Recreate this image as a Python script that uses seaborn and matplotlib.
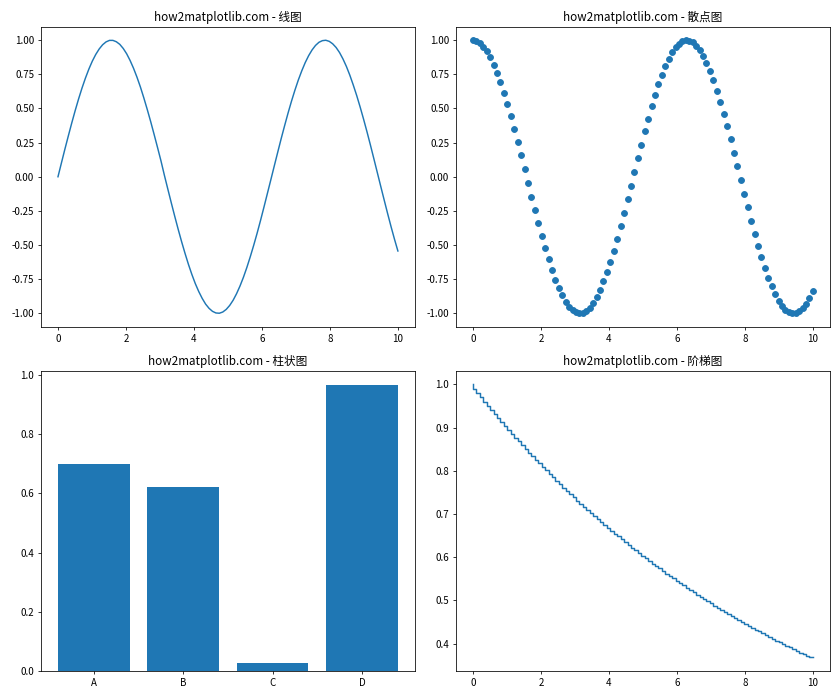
import matplotlib
matplotlib.use('Agg')
import matplotlib.pyplot as plt
import seaborn as sns

plt.rcParams['font.family'] = ['Noto Sans CJK SC', 'DejaVu Sans']
plt.rcParams['axes.unicode_minus'] = False

# 采样点 (0 到 10, 共 100 个)
x_vals = [0.000, 0.101, 0.202, 0.303, 0.404, 0.505, 0.606, 0.707, 0.808, 0.909,
          1.010, 1.111, 1.212, 1.313, 1.414, 1.515, 1.616, 1.717, 1.818, 1.919,
          2.020, 2.121, 2.222, 2.323, 2.424, 2.525, 2.626, 2.727, 2.828, 2.929,
          3.030, 3.131, 3.232, 3.333, 3.434, 3.535, 3.636, 3.737, 3.838, 3.939,
          4.040, 4.141, 4.242, 4.343, 4.444, 4.545, 4.646, 4.747, 4.848, 4.949,
          5.051, 5.152, 5.253, 5.354, 5.455, 5.556, 5.657, 5.758, 5.859, 5.960,
          6.061, 6.162, 6.263, 6.364, 6.465, 6.566, 6.667, 6.768, 6.869, 6.970,
          7.071, 7.172, 7.273, 7.374, 7.475, 7.576, 7.677, 7.778, 7.879, 7.980,
          8.081, 8.182, 8.283, 8.384, 8.485, 8.586, 8.687, 8.788, 8.889, 8.990,
          9.091, 9.192, 9.293, 9.394, 9.495, 9.596, 9.697, 9.798, 9.899, 10.000]

# 线图数据
line_vals = [0.000, 0.101, 0.201, 0.298, 0.393, 0.484, 0.570, 0.650, 0.723, 0.789,
             0.847, 0.896, 0.936, 0.967, 0.988, 0.999, 0.999, 0.989, 0.970, 0.940,
             0.901, 0.852, 0.795, 0.730, 0.658, 0.578, 0.493, 0.404, 0.310, 0.214,
             0.116, 0.010, -0.091, -0.191, -0.289, -0.384, -0.475, -0.561, -0.642, -0.716,
             -0.783, -0.841, -0.891, -0.933, -0.964, -0.986, -0.998, -1.000, -0.991, -0.972,
             -0.943, -0.905, -0.857, -0.801, -0.737, -0.665, -0.586, -0.502, -0.413, -0.319,
             -0.221, -0.121, -0.021, 0.080, 0.180, 0.279, 0.374, 0.466, 0.553, 0.634,
             0.709, 0.776, 0.836, 0.887, 0.929, 0.962, 0.985, 0.997, 1.000, 0.992,
             0.974, 0.947, 0.910, 0.863, 0.808, 0.744, 0.672, 0.595, 0.511, 0.422,
             0.329, 0.232, 0.132, 0.031, -0.070, -0.170, -0.269, -0.365, -0.457, -0.544]

# 散点图数据
scatter_vals = [1.000, 0.995, 0.980, 0.954, 0.920, 0.875, 0.822, 0.760, 0.691, 0.615,
                0.532, 0.444, 0.351, 0.255, 0.156, 0.056, -0.045, -0.146, -0.245, -0.341,
                -0.434, -0.523, -0.606, -0.683, -0.753, -0.816, -0.870, -0.915, -0.951, -0.977,
                -0.993, -1.000, -0.996, -0.982, -0.958, -0.924, -0.880, -0.828, -0.767, -0.698,
                -0.622, -0.541, -0.453, -0.361, -0.265, -0.166, -0.066, 0.035, 0.136, 0.235,
                0.332, 0.426, 0.515, 0.599, 0.676, 0.747, 0.810, 0.865, 0.911, 0.948,
                0.975, 0.993, 1.000, 0.997, 0.984, 0.960, 0.927, 0.885, 0.834, 0.774,
                0.706, 0.631, 0.549, 0.463, 0.371, 0.275, 0.177, 0.076, -0.025, -0.126,
                -0.225, -0.322, -0.416, -0.506, -0.590, -0.668, -0.740, -0.804, -0.860, -0.907,
                -0.945, -0.973, -0.991, -1.000, -0.998, -0.985, -0.963, -0.931, -0.890, -0.839]

# 柱状图数据
bar_cats = ['A', 'B', 'C', 'D']
bar_vals = [0.699, 0.622, 0.027, 0.966]

# 阶梯图数据
step_vals = [1.000, 0.990, 0.980, 0.970, 0.960, 0.951, 0.941, 0.932, 0.922, 0.913,
             0.904, 0.895, 0.886, 0.877, 0.868, 0.859, 0.851, 0.842, 0.834, 0.825,
             0.817, 0.809, 0.801, 0.793, 0.785, 0.777, 0.769, 0.761, 0.754, 0.746,
             0.739, 0.731, 0.724, 0.717, 0.709, 0.702, 0.695, 0.688, 0.681, 0.674,
             0.668, 0.661, 0.654, 0.648, 0.641, 0.635, 0.628, 0.622, 0.616, 0.610,
             0.603, 0.597, 0.591, 0.585, 0.580, 0.574, 0.568, 0.562, 0.557, 0.551,
             0.545, 0.540, 0.535, 0.529, 0.524, 0.519, 0.513, 0.508, 0.503, 0.498,
             0.493, 0.488, 0.483, 0.478, 0.474, 0.469, 0.464, 0.459, 0.455, 0.450,
             0.446, 0.441, 0.437, 0.432, 0.428, 0.424, 0.420, 0.415, 0.411, 0.407,
             0.403, 0.399, 0.395, 0.391, 0.387, 0.383, 0.379, 0.375, 0.372, 0.368]

blue = '#1f77b4'

# 12x10 英寸, 70 dpi -> 840x700 像素
fig, axes = plt.subplots(2, 2, figsize=(12, 10), dpi=70)

# 线图
ax = axes[0, 0]
sns.lineplot(x=x_vals, y=line_vals, color=blue, linewidth=1.5, sort=False, ax=ax)
ax.set_title('how2matplotlib.com - 线图')

# 散点图
ax = axes[0, 1]
sns.scatterplot(x=x_vals, y=scatter_vals, color=blue, s=36,
                edgecolor=blue, linewidth=1.0, ax=ax)
ax.set_title('how2matplotlib.com - 散点图')

# 柱状图
ax = axes[1, 0]
sns.barplot(x=bar_cats, y=bar_vals, color=blue, saturation=1, width=0.8, ax=ax)
ax.set_xlim(-0.59, 3.59)
ax.set_title('how2matplotlib.com - 柱状图')

# 阶梯图
ax = axes[1, 1]
sns.lineplot(x=x_vals, y=step_vals, color=blue, linewidth=1.5, sort=False,
             drawstyle='steps-pre', ax=ax)
ax.set_title('how2matplotlib.com - 阶梯图')

plt.subplots_adjust(left=0.0488, right=0.988, top=0.962, bottom=0.0414,
                    wspace=0.11, hspace=0.146)
plt.savefig('out.png', dpi=70)
plt.close()
